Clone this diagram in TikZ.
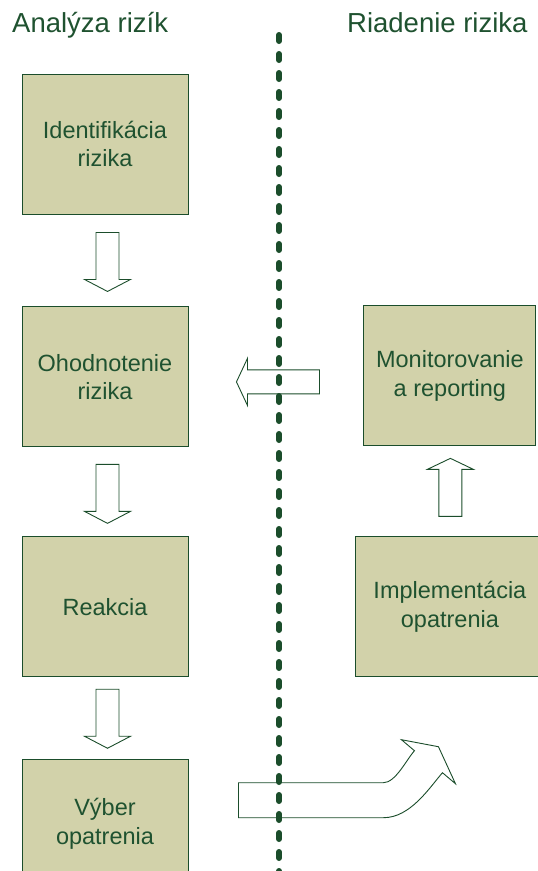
\documentclass[tikz,border=0pt]{standalone}
\usepackage{fontspec}
\setmainfont{Liberation Sans}
\usepackage{xcolor}
\usepackage{tikz}
\usetikzlibrary{positioning,calc}

\definecolor{riskgreen}{HTML}{1B4D2B}
\definecolor{risktext}{HTML}{1F5230}
\definecolor{riskfill}{HTML}{D2D2AA}

\tikzset{
  pics/downarrow/.style={code={
    \draw[blockarrow] (-11.5,0) -- (11.5,0) -- (11.5,47) -- (23,47) -- (0,59) -- (-23,47) -- (-11.5,47) -- cycle;}},
  pics/uparrow/.style={code={
    \draw[blockarrow] (-11.5,0) -- (11.5,0) -- (11.5,-47) -- (23,-47) -- (0,-58) -- (-23,-47) -- (-11.5,-47) -- cycle;}},
  pics/leftarrow/.style={code={
    \draw[blockarrow] (0,-12) -- (-72,-12) -- (-72,-23.5) -- (-83,0) -- (-72,23.5) -- (-72,12) -- (0,12) -- cycle;}},
  pics/bendarrow/.style={code={
    \draw[blockarrow] (0,-17.5) -- (145,-17.5) .. controls (157,-17.5) and (168,-40.5) .. (176,-49.5)
      -- (163,-60.5) -- (200,-53.5) -- (217,-16.5) -- (204,-27.5)
      .. controls (191,-12.5) and (172,17.5) .. (145,17.5) -- (0,17.5) -- cycle;}}
}

\begin{document}
\begin{tikzpicture}[x=1pt, y=-1pt, auto]
		% Define the styles
		\tikzstyle{stepbox}=[rectangle, draw=riskgreen, line width=0.9pt, fill=riskfill, text=risktext, minimum width=166pt, minimum height=140pt, align=center, font=\fontsize{23.5}{28.5}\selectfont]
		\tikzstyle{heading}=[anchor=base west, inner sep=0pt, text=risktext, font=\fontsize{27.5}{33}\selectfont]
		\tikzstyle{blockarrow}=[draw=riskgreen, fill=white, line width=0.9pt, line join=miter]
		\tikzstyle{divider}=[riskgreen, line width=6pt, line cap=round, dash pattern=on 6pt off 13pt]

		\clip (0,0) rectangle (538,871);

		% Define nodes
		\node (analyza) [heading] at (12,32) {Analýza rizík};
		\node (riadenie) [heading] at (347,32) {Riadenie rizika};

		\node (ident) [stepbox] at (105,144) {Identifikácia\\rizika};
		\node (ohod) [stepbox, below=92pt of ident] {Ohodnotenie\\rizika};
		\node (reakcia) [stepbox, below=89pt of ohod] {Reakcia};
		\node (vyber) [stepbox, minimum height=128pt, below=82pt of reakcia] {Výber\\opatrenia};
		\node (implem) [stepbox, minimum width=188pt, right=167pt of reakcia] {Implementácia\\opatrenia};
		\node (monitor) [stepbox, minimum width=172pt, above=90pt of implem] {Monitorovanie\\a reporting};

		% Define edges
		\pic at ($(ident.south)+(2.5,18)$) {downarrow};
		\pic at ($(ohod.south)+(2.5,17)$) {downarrow};
		\pic at ($(reakcia.south)+(2.5,12)$) {downarrow};
		\pic at ($(implem.north)+(0.5,-20)$) {uparrow};
		\pic at ($(monitor.west)+(-44,6)$) {leftarrow};
		\pic at ($(vyber.east)+(50,-23.5)$) {bendarrow};

		% Divider
		\coordinate (divtop) at (279,35);
		\coordinate (divbot) at (279,885);
		\draw[divider] (divtop) -- (divbot);
	\end{tikzpicture}
\end{document}
